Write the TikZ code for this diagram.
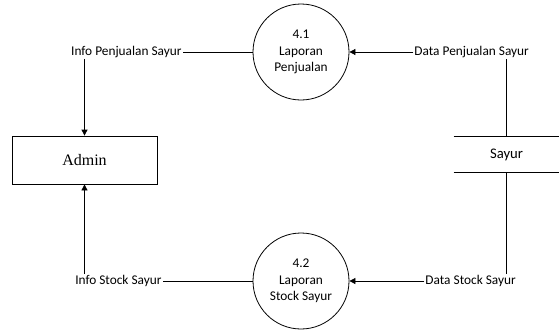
\documentclass[tikz,border=0pt]{standalone}
\usepackage{fontspec}
\setmainfont{Carlito}
\newfontfamily\adminfont{Liberation Serif}
\usetikzlibrary{positioning}
\usetikzlibrary{arrows.meta}

\begin{document}
\begin{tikzpicture}[%
    x=0.75pt, y=-0.75pt,
    line width=0.6pt,
    >={Triangle[length=4.5pt,width=4.5pt]},
procnode/.style={circle, draw, align=center, minimum size=72pt, inner sep=0pt, font=\fontsize{10}{12.4}\selectfont},
entnode/.style={rectangle, draw, minimum width=108.75pt, minimum height=36pt, font=\adminfont\fontsize{12}{14}\selectfont},
storenode/.style={rectangle, minimum width=78.75pt, minimum height=26.25pt, font=\fontsize{11}{13}\selectfont},
flowlabel/.style={inner sep=0.5pt, font=\fontsize{10}{12}\selectfont},
]
\useasboundingbox (0,0) rectangle (559,329);

% Admin
\node[entnode]      (admin)    at (84.5,160)   {Admin};

% Data store
\node[storenode]    (sayur)    at (506.5,154.5) {Sayur};
\draw (sayur.north west) -- (sayur.north east);
\draw (sayur.south west) -- (sayur.south east);

% Process Nodes
\node[procnode]     (laporan1) at (301,52)  {4.1\\Laporan\\Penjualan};
\node[procnode]     (laporan2) at (301,281) {4.2\\Laporan\\Stock Sayur};

% Flow labels
\node[flowlabel]    (infopj)   [left=52.5pt of laporan1]   {Info Penjualan Sayur};
\node[flowlabel]    (datapj)   [right=48pt of laporan1]    {Data Penjualan Sayur};
\node[flowlabel]    (infost)   [left=67.5pt of laporan2]   {Info Stock Sayur};
\node[flowlabel]    (datast)   [right=56.25pt of laporan2] {Data Stock Sayur};

% Lines 4.1
\draw (sayur.north) -- (sayur.north |- datapj.south);
\draw[->] (datapj.west) -- (laporan1.east);
\draw (laporan1.west) -- (infopj.east);
\draw[->] (infopj.south -| admin.north) -- (admin.north);

% Lines 4.2
\draw (sayur.south) -- (sayur.south |- datast.north);
\draw[->] (datast.west) -- (laporan2.east);
\draw (laporan2.west) -- (infost.east);
\draw[->] (infost.north -| admin.south) -- (admin.south);

\end{tikzpicture}
\end{document}
